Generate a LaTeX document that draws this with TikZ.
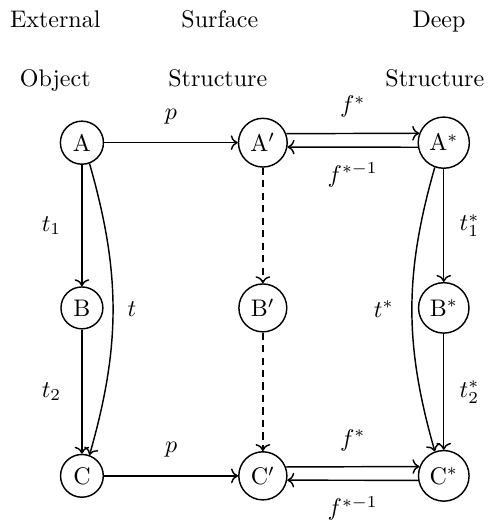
\documentclass[tikz,border=0pt]{standalone}
\usepackage{amsmath,amssymb}
\usepackage{tikz}
\usetikzlibrary{arrows.meta,positioning}

\begin{document}
\begin{tikzpicture}[>=To, semithick, state/.style={draw, circle, inner sep=2.7pt}, dashline/.style={dash pattern=on 3pt off 2.2pt}]
  \useasboundingbox (0,0) rectangle (7.14,-7.69);

  % Column headers
  \foreach \xa/\top/\xb/\bot [count=\i] in {0.81/External/0.81/Object, 3.22/Surface/3.19/Structure, 6.43/Deep/6.37/Structure} {
    \node[anchor=base] (top\i) at (\xa,-0.41) {\top};
    \node[anchor=base] (bot\i) at (\xb,-1.27) {\bot};
  }

  % States
  \node[state] (A)  at (1.20,-2.09) {A};
  \node[state] (Ap) at (3.85,-2.09) {$\mathrm{A}'$};
  \node[state] (As) at (6.50,-2.09) {$\mathrm{A}^*$};
  \node[state] (B)  at (1.20,-4.51) {B};
  \node[state] (Bp) at (3.85,-4.51) {$\mathrm{B}'$};
  \node[state] (Bs) at (6.50,-4.51) {$\mathrm{B}^*$};
  \node[state] (C)  at (1.20,-6.97) {C};
  \node[state] (Cp) at (3.85,-6.97) {$\mathrm{C}'$};
  \node[state] (Cs) at (6.50,-6.97) {$\mathrm{C}^*$};

  % Horizontal maps
  \draw[->] (A) -- node[above=4pt] {$p$} (Ap);
  \draw[->] (C) -- node[above=4pt] {$p$} (Cp);
  \draw[->] (Ap.21) -- node[above=3pt] {$f^*$} (As.159);
  \draw[->] (As.-170) -- node[below=3pt] {$f^{*-1}$} (Ap.-10);
  \draw[->] (Cp.21) -- node[above=3pt] {$f^*$} (Cs.159);
  \draw[->] (Cs.-170) -- node[below=3pt] {$f^{*-1}$} (Cp.-10);

  % External object
  \draw[->] (A) -- node[left=5pt] {$t_1$} (B);
  \draw[->] (B) -- node[left=5pt] {$t_2$} (C);
  \draw[->] (A.-70) to[out=-74, in=74] node[right=2.5pt] {$t$} (C.70);

  % Surface structure
  \draw[->, dashline] (Ap) -- (Bp);
  \draw[->, dashline] (Bp) -- (Cp);

  % Deep structure
  \draw[->] (As) -- node[right=3pt] {$t_1^*$} (Bs);
  \draw[->] (Bs) -- node[right=3pt] {$t_2^*$} (Cs);
  \draw[->] (As.-110) to[out=-106, in=106] node[left=4pt] {$t^*$} (Cs.110);
\end{tikzpicture}
\end{document}
